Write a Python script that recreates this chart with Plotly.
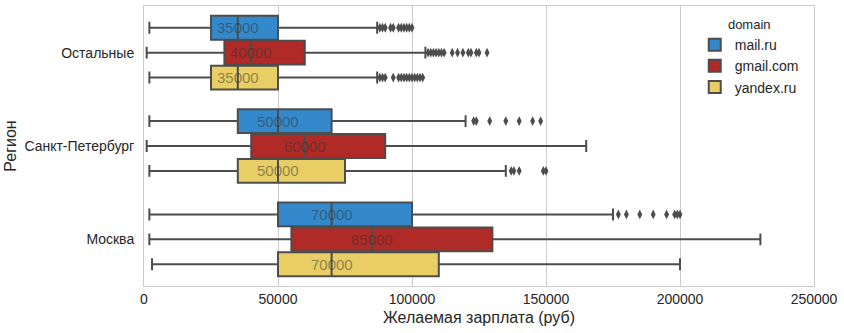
import plotly.graph_objects as go

regions = ["Остальные", "Санкт-Петербург", "Москва"]
domains = ["mail.ru", "gmail.com", "yandex.ru"]
colors = ["#3389CB", "#B02A27", "#E8CE64"]

# per domain, values per region [Остальные, СПб, Москва]
lower = {"mail.ru": [2000, 2000, 2000], "gmail.com": [1000, 1000, 2000], "yandex.ru": [2000, 2000, 3000]}
q1 = {"mail.ru": [25000, 35000, 50000], "gmail.com": [30000, 40000, 55000], "yandex.ru": [25000, 35000, 50000]}
median = {"mail.ru": [35000, 50000, 70000], "gmail.com": [40000, 60000, 85000], "yandex.ru": [35000, 50000, 70000]}
q3 = {"mail.ru": [50000, 70000, 100000], "gmail.com": [60000, 90000, 130000], "yandex.ru": [50000, 75000, 110000]}
upper = {"mail.ru": [87000, 120000, 175000], "gmail.com": [105000, 165000, 230000], "yandex.ru": [87000, 135000, 200000]}
outliers = {
    "mail.ru": [
        [88000, 89000, 90000, 92000, 93000, 95000, 96000, 97000, 98000, 99000, 100000],
        [123000, 124000, 129000, 135000, 140000, 145000, 148000],
        [177000, 180000, 185000, 190000, 195000, 198000, 199000, 200000],
    ],
    "gmail.com": [
        [106000, 107000, 108000, 109000, 110000, 111000, 112000, 115000, 117000, 119000,
         121000, 122000, 124000, 125000, 128000],
        [],
        [],
    ],
    "yandex.ru": [
        [88000, 89000, 90000, 93000, 95000, 96000, 97000, 98000, 99000, 100000,
         101000, 102000, 103000, 104000],
        [137000, 138000, 140000, 149000, 150000],
        [],
    ],
}
x_ticks = [0, 50000, 100000, 150000, 200000, 250000]

FONT = "Liberation Sans, Arial, sans-serif"
LINE = "#4D4D4D"
TEXT = "#262626"
offsets = [-0.2667, 0.0, 0.2667]
box_w = 0.255

fig = go.Figure()
annotations = []
for di, d in enumerate(domains):
    pos = [ri + offsets[di] for ri in range(len(regions))]
    fig.add_trace(go.Box(
        name=d, y=pos, orientation="h",
        q1=q1[d], median=median[d], q3=q3[d],
        lowerfence=lower[d], upperfence=upper[d],
        width=box_w, whiskerwidth=0.5,
        fillcolor=colors[di], line=dict(color=LINE, width=2),
        boxpoints=False, hoverinfo="skip", showlegend=True,
    ))
    ox, oy = [], []
    for ri in range(len(regions)):
        for v in outliers[d][ri]:
            ox.append(v)
            oy.append(pos[ri])
        annotations.append(dict(
            x=median[d][ri], y=pos[ri], xref="x", yref="y",
            text=str(median[d][ri]), showarrow=False,
            font=dict(family=FONT, size=15, color="rgba(50,50,50,0.5)"),
        ))
    fig.add_trace(go.Scatter(
        x=ox, y=oy, mode="markers", showlegend=False, hoverinfo="skip",
        marker=dict(symbol="diamond-tall", size=7, color=LINE),
    ))

fig.update_layout(
    width=844, height=333,
    margin=dict(l=144, r=30, t=6, b=47),
    paper_bgcolor="white", plot_bgcolor="white",
    boxmode="overlay",
    font=dict(family=FONT, size=14, color=TEXT),
    annotations=annotations,
    legend=dict(
        x=0.822, y=0.978, xanchor="left", yanchor="top",
        bgcolor="rgba(255,255,255,0.9)",
        title=dict(text="domain", side="top center", font=dict(size=13, color=TEXT)),
        font=dict(size=14, color=TEXT),
        itemsizing="constant",
        tracegroupgap=0,
    ),
    xaxis=dict(
        range=[0, 250000], tickvals=x_ticks, ticktext=[str(t) for t in x_ticks],
        showgrid=True, gridcolor="#CCCCCC", gridwidth=1,
        showline=True, mirror=True, linecolor="#CCCCCC", linewidth=1,
        zeroline=False, ticks="",
        title=dict(text="Желаемая зарплата (руб)", font=dict(size=16, color=TEXT), standoff=6),
        tickfont=dict(size=14, color=TEXT),
    ),
    yaxis=dict(
        range=[2.5, -0.5], tickvals=[0, 1, 2], ticktext=regions,
        showgrid=False, showline=True, mirror=True, linecolor="#CCCCCC", linewidth=1,
        zeroline=False, ticks="", ticklabelstandoff=6,
        title=dict(text="Регион", font=dict(size=16, color=TEXT), standoff=3),
        tickfont=dict(size=14, color=TEXT),
    ),
)

fig.write_html("out.html")
